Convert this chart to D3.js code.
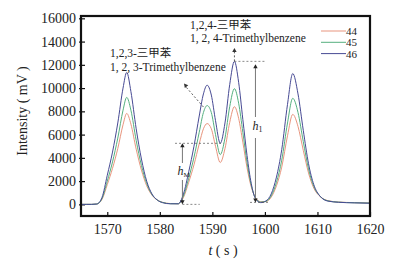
<!DOCTYPE html>
<html><head><meta charset="utf-8">
<script src="https://cdn.jsdelivr.net/npm/d3@7"></script>
<style>
html,body{margin:0;padding:0;background:#fff;}
svg text{font-family:"Liberation Serif","Times New Roman","Noto Sans CJK SC",serif;fill:#222;}
</style></head>
<body>
<svg id="c" width="399" height="266"></svg>
<script>
const times = [1565,1566,1567,1568,1569,1570,1571,1572,1573,1573.7,1574.5,1575.5,1576.5,1577.5,1578.5,1579.5,1580.5,1582,1583.5,
  1584.5,1585.5,1586.5,1587.5,1588.3,1589.0,1589.8,1590.6,1591.5,1592.4,1593.3,1594.2,1595.0,1595.8,1596.6,1597.4,1598.2,1599.2,
  1600.2,1601.2,1602.2,1603.2,1604.3,1605.3,1606.3,1607.3,1608.3,1609.3,1610.5,1612,1614,1617,1620];
const s46 = [0,0,0,30,600,2500,4500,7000,10000,11350,9700,6500,3900,2000,900,380,150,50,50,
  900,2800,5000,7600,9500,10250,9400,7200,5250,7000,10300,12300,10500,7300,4200,1800,500,150,
  300,900,2350,4700,8600,11250,9500,6370,3500,1700,700,280,180,130,100];
const s45 = [0,0,0,30,500,2000,3650,5700,8100,9200,8100,5500,3350,1800,850,380,170,60,50,
  720,2250,4050,6200,7900,8500,7900,6000,4280,5700,8400,9950,8700,6200,3600,1650,550,200,
  260,730,1900,3800,7000,9120,7900,5400,3050,1550,700,300,190,140,110];
const s44 = [0,0,0,30,430,1700,3100,4800,6850,7820,6900,4750,2950,1600,800,380,180,70,50,
  600,1900,3400,5200,6500,6950,6500,5000,3600,4800,7050,8400,7400,5350,3150,1500,600,230,
  240,620,1600,3200,5900,7740,6700,4650,2700,1400,680,320,200,150,120];
const seriesNames = ["44","45","46"];
const seriesColors = ["#e8957e","#55b07f","#474a94"];
const xTicks = [1570,1580,1590,1600,1610,1620];
const yTicks = [0,2000,4000,6000,8000,10000,12000,14000,16000];
const yTitle = "Intensity ( mV )";

const svg = d3.select("#c");
const L=81, R=370, T=16, B=216;
const x = d3.scaleLinear().domain([1565,1620]).range([L,R]);
const y = d3.scaleLinear().domain([-1000,16200]).range([B,T]);

// axes
const xa = svg.append("g").attr("transform",`translate(0,${B})`)
  .call(d3.axisBottom(x).tickValues(xTicks).tickFormat(d3.format("d")).tickSizeInner(-4).tickSizeOuter(0).tickPadding(8));
const ya = svg.append("g").attr("transform",`translate(${L},0)`)
  .call(d3.axisLeft(y).tickValues(yTicks).tickFormat(d3.format("d")).tickSizeInner(-4).tickSizeOuter(0).tickPadding(5));
[xa,ya].forEach(g=>{
  g.select(".domain").remove();
  g.selectAll(".tick line").attr("stroke","#111").attr("stroke-width",1.2);
  g.selectAll(".tick text").attr("font-size",14).attr("font-family",'"Liberation Serif",serif').attr("fill","#222");
});
ya.selectAll(".tick line").attr("x1",-2).attr("x2",4);

// lines
const data = [s44,s45,s46];
const line = d3.line().x((d,i)=>x(times[i])).y(d=>y(d)).curve(d3.curveMonotoneX);
data.forEach((s,k)=>{
  svg.append("path").datum(s).attr("d",line).attr("fill","none")
    .attr("stroke",seriesColors[k]).attr("stroke-width",1);
});

// frame
svg.append("rect").attr("x",L).attr("y",T).attr("width",R-L).attr("height",B-T)
  .attr("fill","none").attr("stroke","#111").attr("stroke-width",2.2);

// axis titles
svg.append("text").attr("x",223).attr("y",255).attr("text-anchor","middle").attr("font-size",14)
  .html('<tspan font-style="italic">t</tspan> ( s )');
svg.append("text").attr("transform","translate(27,111) rotate(-90)").attr("text-anchor","middle")
  .attr("font-size",14).text(yTitle);

// legend
seriesNames.forEach((n,k)=>{
  const yy = 31 + k*11.3;
  svg.append("line").attr("x1",321).attr("x2",346).attr("y1",yy).attr("y2",yy)
    .attr("stroke",seriesColors[k]).attr("stroke-width",1);
  svg.append("text").attr("x",346).attr("y",yy+4).attr("font-size",11).text(n);
});

// annotations
const gray="#777";
function arrowHead(px,py,ang,col){
  const s=4, w=2.2;
  const bx=px-Math.cos(ang)*s, by=py-Math.sin(ang)*s;
  const nx=-Math.sin(ang)*w, ny=Math.cos(ang)*w;
  svg.append("path").attr("d",`M${px},${py}L${bx+nx},${by+ny}L${bx-nx},${by-ny}Z`).attr("fill",col);
}
svg.append("text").attr("x",110).attr("y",57).attr("font-size",11.5).text("1,2,3-三甲苯");
svg.append("text").attr("x",110).attr("y",71).attr("font-size",11.5).text("1, 2, 3-Trimethylbenzene");
svg.append("text").attr("x",190).attr("y",29).attr("font-size",11.5).text("1,2,4-三甲苯");
svg.append("text").attr("x",190).attr("y",42).attr("font-size",11.5).text("1, 2, 4-Trimethylbenzene");

svg.append("line").attr("x1",x(1588.3)).attr("y1",107).attr("x2",186).attr("y2",87)
  .attr("stroke","#333").attr("stroke-width",0.8).attr("stroke-dasharray","2,2");
arrowHead(184,83.5,Math.atan2(83.5-107,184-x(1588.3)),"#333");
const p3x = x(1594.2), p3y = y(12300);
svg.append("line").attr("x1",p3x).attr("x2",p3x).attr("y1",p3y).attr("y2",52)
  .attr("stroke","#333").attr("stroke-width",0.8).attr("stroke-dasharray","2,2");
arrowHead(p3x,48,-Math.PI/2,"#333");
svg.append("line").attr("x1",p3x).attr("x2",266).attr("y1",p3y).attr("y2",p3y)
  .attr("stroke","#555").attr("stroke-width",0.7).attr("stroke-dasharray","2,2");

const h1x = x(1598.2), h1top = y(12300), h1bot = y(170);
svg.append("line").attr("x1",h1x).attr("x2",h1x).attr("y1",h1top+5).attr("y2",117).attr("stroke",gray).attr("stroke-width",1);
svg.append("line").attr("x1",h1x).attr("x2",h1x).attr("y1",138).attr("y2",h1bot-3).attr("stroke",gray).attr("stroke-width",1);
arrowHead(h1x,h1top+3,-Math.PI/2,"#222");
arrowHead(h1x,h1bot,Math.PI/2,"#222");
svg.append("line").attr("x1",250).attr("x2",270).attr("y1",h1bot).attr("y2",h1bot)
  .attr("stroke","#555").attr("stroke-width",0.7).attr("stroke-dasharray","2,2");
svg.append("text").attr("x",h1x-3).attr("y",130).attr("font-size",12)
  .html('<tspan font-style="italic">h</tspan><tspan font-size="8" dy="2">1</tspan>');

const hMx = x(1584.3), hMtop = y(5250), hMbot = y(0);
svg.append("line").attr("x1",175).attr("x2",x(1592.1)).attr("y1",hMtop).attr("y2",hMtop)
  .attr("stroke","#555").attr("stroke-width",0.7).attr("stroke-dasharray","2,2");
svg.append("line").attr("x1",hMx).attr("x2",x(1587.6)).attr("y1",hMbot).attr("y2",hMbot)
  .attr("stroke","#555").attr("stroke-width",0.7).attr("stroke-dasharray","2,2");
svg.append("line").attr("x1",hMx).attr("x2",hMx).attr("y1",hMtop+3).attr("y2",163).attr("stroke",gray).attr("stroke-width",1);
svg.append("line").attr("x1",hMx).attr("x2",hMx).attr("y1",180).attr("y2",hMbot-3).attr("stroke",gray).attr("stroke-width",1);
arrowHead(hMx,hMtop,-Math.PI/2,"#222");
arrowHead(hMx,hMbot,Math.PI/2,"#222");
svg.append("text").attr("x",hMx-5).attr("y",175).attr("font-size",12)
  .html('<tspan font-style="italic">h</tspan><tspan font-size="7" dy="2">M</tspan>');
</script>
</body></html>
